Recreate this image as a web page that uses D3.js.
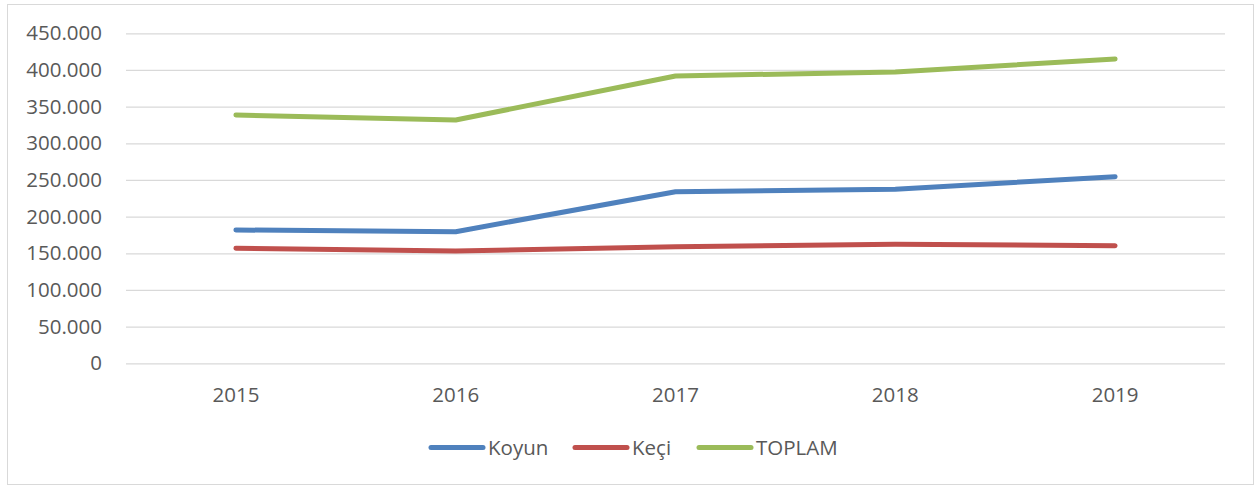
<!DOCTYPE html>
<html>
<head>
<meta charset="utf-8">
<script src="https://cdn.jsdelivr.net/npm/d3@7"></script>
<style>
  body { margin: 0; background: #fff; }
  svg text { font-family: "Open Sans", sans-serif; fill: #595959; }
</style>
</head>
<body>
<svg width="1258" height="486"></svg>
<script>
// data
var years = ["2015", "2016", "2017", "2018", "2019"];
var koyun = [181800, 179500, 234000, 237300, 254500];
var keci = [156800, 153200, 159000, 162300, 160400];
var toplam = [338600, 331800, 391800, 397300, 415000];
var yTicks = [0, 50000, 100000, 150000, 200000, 250000, 300000, 350000, 400000, 450000];
var seriesNames = ["Koyun", "Keçi", "TOPLAM"];
var seriesColors = ["#4f81bd", "#c0504d", "#9bbb59"];

var svg = d3.select("svg");

// outer chart frame
svg.append("rect")
    .attr("x", 7.5).attr("y", 4.5)
    .attr("width", 1246).attr("height", 480)
    .attr("fill", "#fff")
    .attr("stroke", "#d9d9d9");

// plot area (note: "top" is taken by window.top)
var plotLeft = 126, plotRight = 1225, plotTop = 33.3, plotBottom = 363.3;

var x = d3.scaleBand().domain(years).range([plotLeft, plotRight]);
var y = d3.scaleLinear().domain([0, 450000]).range([plotBottom, plotTop]);

var trFormat = d3.formatLocale({decimal: ",", thousands: ".", grouping: [3], currency: ["", ""]}).format(",d");

// y axis + gridlines
var yAxis = svg.append("g")
    .attr("transform", "translate(" + plotLeft + ",0)")
    .call(d3.axisLeft(y).tickValues(yTicks).tickFormat(trFormat)
        .tickSize(-(plotRight - plotLeft)).tickPadding(24));
yAxis.select(".domain").remove();
yAxis.selectAll(".tick line").attr("stroke", "#d9d9d9").attr("stroke-width", 1.3);
yAxis.selectAll(".tick text").style("font-size", "20.5px").attr("fill", "#595959");

// x axis
var xAxis = svg.append("g")
    .attr("transform", "translate(0," + plotBottom + ")")
    .call(d3.axisBottom(x).tickSize(0).tickPadding(24.5));
xAxis.select(".domain").remove();
xAxis.selectAll(".tick text").style("font-size", "20.5px").attr("fill", "#595959");

// lines
var series = [koyun, keci, toplam];
var line = d3.line()
    .x(function(d, i) { return x(years[i]) + x.bandwidth() / 2; })
    .y(function(d) { return y(d); });

svg.selectAll(".series")
    .data(series)
    .enter().append("path")
    .attr("class", "series")
    .attr("d", line)
    .attr("fill", "none")
    .attr("stroke", function(d, i) { return seriesColors[i]; })
    .attr("stroke-width", 5)
    .attr("stroke-linecap", "round")
    .attr("stroke-linejoin", "round");

// legend
var legendX = [431, 575, 699];
var legend = svg.selectAll(".legend")
    .data(seriesNames)
    .enter().append("g")
    .attr("class", "legend")
    .attr("transform", function(d, i) { return "translate(" + legendX[i] + ",447.5)"; });

legend.append("line")
    .attr("x1", 0).attr("x2", 52)
    .attr("stroke", function(d, i) { return seriesColors[i]; })
    .attr("stroke-width", 5)
    .attr("stroke-linecap", "round");

legend.append("text")
    .attr("x", 57)
    .attr("dy", "0.35em")
    .style("font-size", "20.5px")
    .text(function(d) { return d; });
</script>
</body>
</html>
